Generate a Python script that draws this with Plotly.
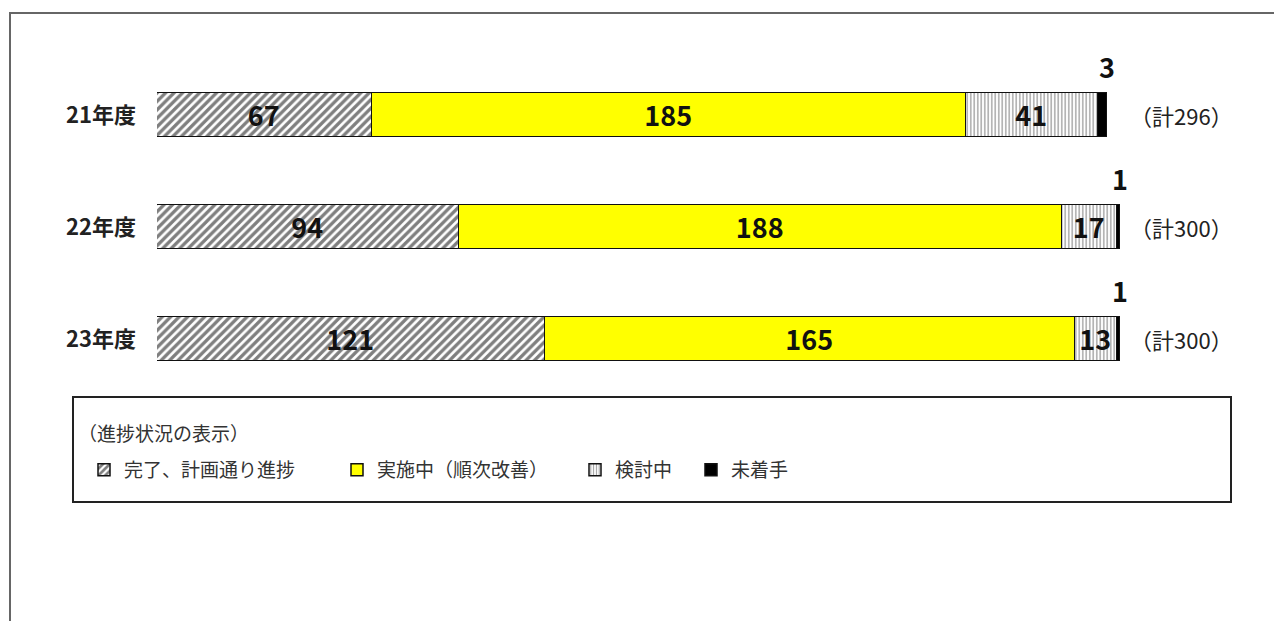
import plotly.graph_objects as go

# ---- data ----
years = ["21年度", "22年度", "23年度"]
done = [67, 94, 121]
ongoing = [185, 188, 165]
review = [41, 17, 13]
notyet = [3, 1, 1]
totals = [296, 300, 300]
total_labels = ["（計296）", "（計300）", "（計300）"]
series_names = ["完了、計画通り進捗", "実施中（順次改善）", "検討中", "未着手"]
legend_title = "（進捗状況の表示）"

W, H = 1274, 621
L, R_ = 157, 1120       # plot area x pixels
T, B = 59, 395          # plot area y pixels
XMAX = 300


def px(xp):
    return (xp - L) / (R_ - L)


def py(yp):
    return 1 - (yp - T) / (B - T)


FONT = "Noto Sans CJK JP, Noto Sans, sans-serif"
rows = list(range(len(years)))

fig = go.Figure()
line = dict(color="#111", width=1.5)
numfont = dict(family=FONT, size=27, color="#111", weight="bold")

fig.add_trace(go.Bar(
    y=rows, x=done, orientation="h", name=series_names[0], legend="legend",
    marker=dict(color="white", line=line,
                pattern=dict(shape="/", fgcolor="#000", bgcolor="white", size=6, solidity=0.55)),
    text=[str(v) for v in done], textposition="inside", insidetextanchor="middle",
    constraintext="none", textangle=0, textfont=numfont,
    width=0.4, hoverinfo="skip"))
fig.add_trace(go.Bar(
    y=rows, x=ongoing, orientation="h", name=series_names[1], legend="legend2",
    marker=dict(color="#FFFF00", line=line),
    text=[str(v) for v in ongoing], textposition="inside", insidetextanchor="middle",
    constraintext="none", textangle=0, textfont=numfont,
    width=0.4, hoverinfo="skip"))
fig.add_trace(go.Bar(
    y=rows, x=review, orientation="h", name=series_names[2], legend="legend3",
    marker=dict(color="white", line=line,
                pattern=dict(shape="|", fgcolor="#444", bgcolor="white", size=3.5, solidity=0.4)),
    text=[str(v) for v in review], textposition="inside", insidetextanchor="middle",
    constraintext="none", textangle=0, textfont=numfont,
    width=0.4, hoverinfo="skip"))
fig.add_trace(go.Bar(
    y=rows, x=notyet, orientation="h", name=series_names[3], legend="legend4",
    marker=dict(color="#000", line=line),
    width=0.4, hoverinfo="skip"))

annotations = []
for i in rows:
    annotations.append(dict(
        x=totals[i], y=i - 0.2, xref="x", yref="y", text=str(notyet[i]),
        showarrow=False, xanchor="center", yanchor="bottom", yshift=5,
        font=numfont))
    annotations.append(dict(
        x=px(1128), y=i, xref="paper", yref="y", text=total_labels[i],
        showarrow=False, xanchor="left", yanchor="middle",
        font=dict(family=FONT, size=22, color="#222")))

annotations.append(dict(
    x=px(76), y=py(432), xref="paper", yref="paper", text=legend_title,
    showarrow=False, xanchor="left", yanchor="middle",
    font=dict(family=FONT, size=19, color="#333")))

shapes = [
    dict(type="rect", xref="paper", yref="paper",
         x0=px(10), x1=px(1290), y0=py(640), y1=py(13),
         line=dict(color="#666", width=2), fillcolor="rgba(0,0,0,0)", layer="below"),
    dict(type="rect", xref="paper", yref="paper",
         x0=px(73), x1=px(1231), y0=py(502), y1=py(397),
         line=dict(color="#222", width=2), fillcolor="rgba(0,0,0,0)"),
]

leg_common = dict(orientation="h", xanchor="left", yanchor="middle",
                  bgcolor="rgba(0,0,0,0)", borderwidth=0,
                  font=dict(family=FONT, size=19, color="#333"))
ly = py(470)

fig.update_layout(
    width=W, height=H,
    margin=dict(l=L, r=W - R_, t=T, b=H - B, pad=0),
    paper_bgcolor="white", plot_bgcolor="white",
    barmode="stack", bargap=0,
    showlegend=True,
    legend=dict(x=px(84), y=ly, **leg_common),
    legend2=dict(x=px(337), y=ly, **leg_common),
    legend3=dict(x=px(575), y=ly, **leg_common),
    legend4=dict(x=px(691), y=ly, **leg_common),
    xaxis=dict(range=[0, XMAX], visible=False, fixedrange=True),
    yaxis=dict(range=[2.5, -0.5], tickmode="array", tickvals=rows, ticktext=years,
               showgrid=False, zeroline=False, showline=False, ticks="",
               ticklabelstandoff=20,
               tickfont=dict(family=FONT, size=22, color="#222", weight="bold")),
    annotations=annotations, shapes=shapes,
    font=dict(family=FONT),
)

fig.write_html("out.html")
